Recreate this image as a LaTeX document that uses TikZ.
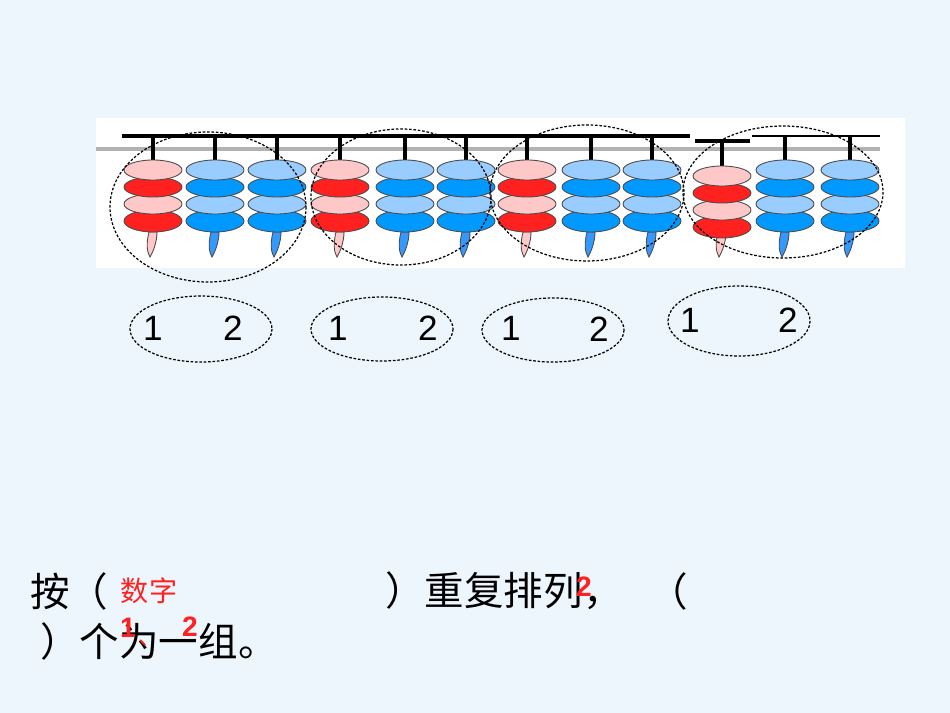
\documentclass[tikz,border=0pt]{standalone}
\usepackage{fontspec}
\setmainfont{Liberation Sans}
\newfontfamily\cjk{Noto Sans CJK SC}
\definecolor{bg}{HTML}{EEF6FD}
\definecolor{pk}{HTML}{FFC8C8}
\definecolor{rd}{HTML}{FF2020}
\definecolor{lb}{HTML}{99CCFF}
\definecolor{bl}{HTML}{0099FF}
\definecolor{tb}{HTML}{3399FF}
\tikzset{
 bead/.style={draw=black!70,line width=0.5pt},
 grp/.style={draw,dash pattern=on 1.5pt off 1pt,line width=0.7pt},
 num/.style={font=\fontsize{20}{20}\selectfont,inner sep=0pt},
 cn/.style={font=\cjk\fontsize{22.5}{22.5}\selectfont,inner sep=0pt},
 rn/.style={font=\fontsize{16}{16}\selectfont\bfseries,text=rd,inner sep=0pt}
}
\begin{document}
\begin{tikzpicture}[x=0.02cm,y=-0.02cm]
\fill[bg] (0,0) rectangle (950,713);
\useasboundingbox (0,0) rectangle (950,713);
\fill[white] (96,118) rectangle (905,268);
\fill[black!30] (96,147) rectangle (880,151);
\draw[line width=2.5pt] (122,136) -- (690,136);
\draw[line width=2.5pt] (695,141) -- (750,141);
\draw[line width=1.5pt] (752,136) -- (880,136);
\foreach \x/\t/\a/\b/\tail in {153/160/pk/rd/pk,215/160/lb/bl/tb,277/160/lb/bl/tb,
 340/160/pk/rd/pk,405/160/lb/bl/tb,466/160/lb/bl/tb,
 527/160/pk/rd/pk,591/160/lb/bl/tb,652/160/lb/bl/tb,
 722/166/pk/rd/pk,785/160/lb/bl/tb,850/160/lb/bl/tb}{
 \ifnum\x=722 \draw[line width=2pt] (\x,141) -- (\x,\t);
 \else \draw[line width=2pt] (\x,136) -- (\x,\t); \fi
 \draw[bead,fill=\tail] (\x-4,232) .. controls (\x-7,244) and (\x-6,252) .. (\x-3,257) .. controls (\x,252) and (\x+4,242) .. (\x+4,232) -- cycle;
 \draw[bead,fill=\b] (\x,\t+61) ellipse [x radius=29,y radius=11];
 \draw[bead,fill=\a] (\x,\t+44) ellipse [x radius=29,y radius=10];
 \draw[bead,fill=\b] (\x,\t+27) ellipse [x radius=29,y radius=10];
 \draw[bead,fill=\a] (\x,\t+10) ellipse [x radius=29,y radius=10];
}
\draw[grp] (208,207) ellipse [x radius=98,y radius=75];
\draw[grp] (401,197) ellipse [x radius=90,y radius=68];
\draw[grp] (587,193) ellipse [x radius=97,y radius=68];
\draw[grp] (783,192) ellipse [x radius=100,y radius=66];
\draw[grp] (201,329) ellipse [x radius=71,y radius=33];
\draw[grp] (382,329) ellipse [x radius=71,y radius=32];
\draw[grp] (553,330) ellipse [x radius=71,y radius=32];
\draw[grp] (739,321) ellipse [x radius=71,y radius=35];
\node[num] (a1) at (153,328) {1}; \node[num] (a2) at (233,328) {2};
\node[num] (b1) at (338,328) {1}; \node[num] (b2) at (428,328) {2};
\node[num] (c1) at (511,328) {1}; \node[num] (c2) at (599,329) {2};
\node[num] (d1) at (690,320) {1}; \node[num] (d2) at (788,320) {2};
\node[cn] (t1) at (50,591) {按};
\node[cn] (t2) at (88,591) {（};
\node[rn,font=\cjk\fontsize{16}{16}\selectfont] (t3) at (149,591) {数字};
\node[cn,anchor=west] (t4) at (385,591) {）重复排列，};
\node[cn] (t5) at (668,591) {（};
\node[cn,anchor=west] (t6) at (40,641) {）个为一组。};
\node[rn] (r1) at (584,587) {2};
\node[rn] (r2) at (128,628) {1};
\node[rn] (r3) at (190,627) {2};
\draw[rd,line width=1pt] (r2.south east) ++(4,2) -- ++(5,5);
\end{tikzpicture}
\end{document}
